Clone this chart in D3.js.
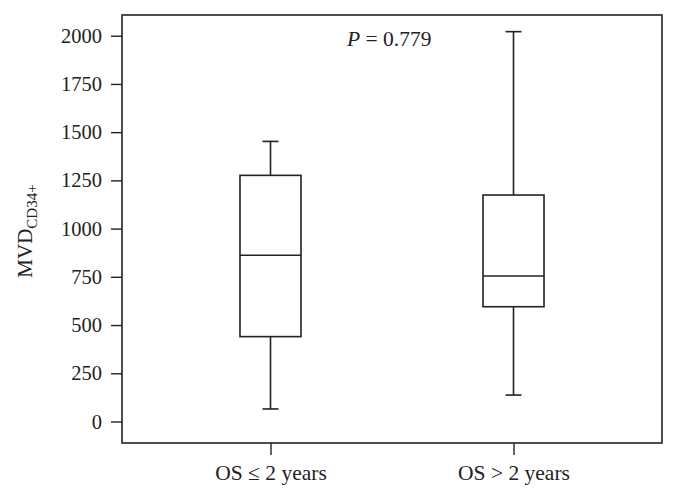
<!DOCTYPE html>
<html>
<head>
<meta charset="utf-8">
<script src="https://cdn.jsdelivr.net/npm/d3@7"></script>
<style>
  body { margin: 0; background: #fff; }
  text { font-family: "Liberation Serif", "DejaVu Serif", serif; fill: #222; }
</style>
</head>
<body>
<svg></svg>
<script>
let width = 676, height = 499;

// Data
let groups = ["OS \u2264 2 years", "OS > 2 years"];
let mins = [65, 137];
let q1s = [440, 595];
let medians = [862, 754];
let q3s = [1276, 1174];
let maxs = [1452, 2021];
let yTicks = [0, 250, 500, 750, 1000, 1250, 1500, 1750, 2000];

let boxes = groups.map((g, i) => ({
    group: g, min: mins[i], q1: q1s[i], median: medians[i], q3: q3s[i], max: maxs[i]
}));

let margin = {top: 15, right: 14, bottom: 56, left: 122};

let svg = d3.select("svg")
    .attr("width", width)
    .attr("height", height);

let x = d3.scalePoint()
    .domain(groups)
    .range([margin.left, width - margin.right])
    .padding(0.611);

let y = d3.scaleLinear()
    .domain([0, 2000])
    .range([421.5, 35.7]);

let boxW = 61, capW = 16;
let ink = "#222";

// Frame
svg.append("rect")
    .attr("x", margin.left)
    .attr("y", margin.top)
    .attr("width", width - margin.right - margin.left)
    .attr("height", height - margin.bottom - margin.top)
    .attr("fill", "none")
    .attr("stroke", ink)
    .attr("stroke-width", 1.6);

// Y axis
let yAxis = svg.append("g")
    .attr("transform", "translate(" + margin.left + ",0)")
    .call(d3.axisLeft(y).tickValues(yTicks).tickSize(11).tickPadding(9).tickFormat(d3.format("d")));
yAxis.select(".domain").remove();
yAxis.selectAll("line").attr("stroke", ink).attr("stroke-width", 1.4);
yAxis.selectAll("text").style("font-size", "20.5px").attr("fill", ink);

// X axis
let xAxis = svg.append("g")
    .attr("transform", "translate(0," + (height - margin.bottom) + ")")
    .call(d3.axisBottom(x).tickSize(12).tickPadding(10));
xAxis.select(".domain").remove();
xAxis.selectAll("line").attr("stroke", ink).attr("stroke-width", 1.4);
xAxis.selectAll("text").style("font-size", "21.5px").attr("fill", ink);

// Y label
let ylab = svg.append("text")
    .attr("transform", "translate(32,231) rotate(-90)")
    .attr("text-anchor", "middle")
    .style("font-size", "21px");
ylab.append("tspan").text("MVD");
ylab.append("tspan").attr("dy", 5).style("font-size", "15px").text("CD34+");

// P value
let ptext = svg.append("text")
    .attr("x", 347)
    .attr("y", 46)
    .style("font-size", "21.5px");
ptext.append("tspan").style("font-style", "italic").text("P");
ptext.append("tspan").text(" = 0.779");

// Boxes
let box = svg.append("g")
    .selectAll("g")
    .data(boxes)
    .enter()
    .append("g")
    .attr("stroke", ink)
    .attr("stroke-width", 1.6)
    .attr("fill", "none");

// whiskers
box.append("line")
    .attr("x1", d => x(d.group)).attr("x2", d => x(d.group))
    .attr("y1", d => y(d.max)).attr("y2", d => y(d.q3));
box.append("line")
    .attr("x1", d => x(d.group)).attr("x2", d => x(d.group))
    .attr("y1", d => y(d.q1)).attr("y2", d => y(d.min));
// caps
box.append("line")
    .attr("x1", d => x(d.group) - capW / 2).attr("x2", d => x(d.group) + capW / 2)
    .attr("y1", d => y(d.max)).attr("y2", d => y(d.max));
box.append("line")
    .attr("x1", d => x(d.group) - capW / 2).attr("x2", d => x(d.group) + capW / 2)
    .attr("y1", d => y(d.min)).attr("y2", d => y(d.min));
// box
box.append("rect")
    .attr("x", d => x(d.group) - boxW / 2)
    .attr("width", boxW)
    .attr("y", d => y(d.q3))
    .attr("height", d => y(d.q1) - y(d.q3));
// median
box.append("line")
    .attr("x1", d => x(d.group) - boxW / 2).attr("x2", d => x(d.group) + boxW / 2)
    .attr("y1", d => y(d.median)).attr("y2", d => y(d.median));
</script>
</body>
</html>
